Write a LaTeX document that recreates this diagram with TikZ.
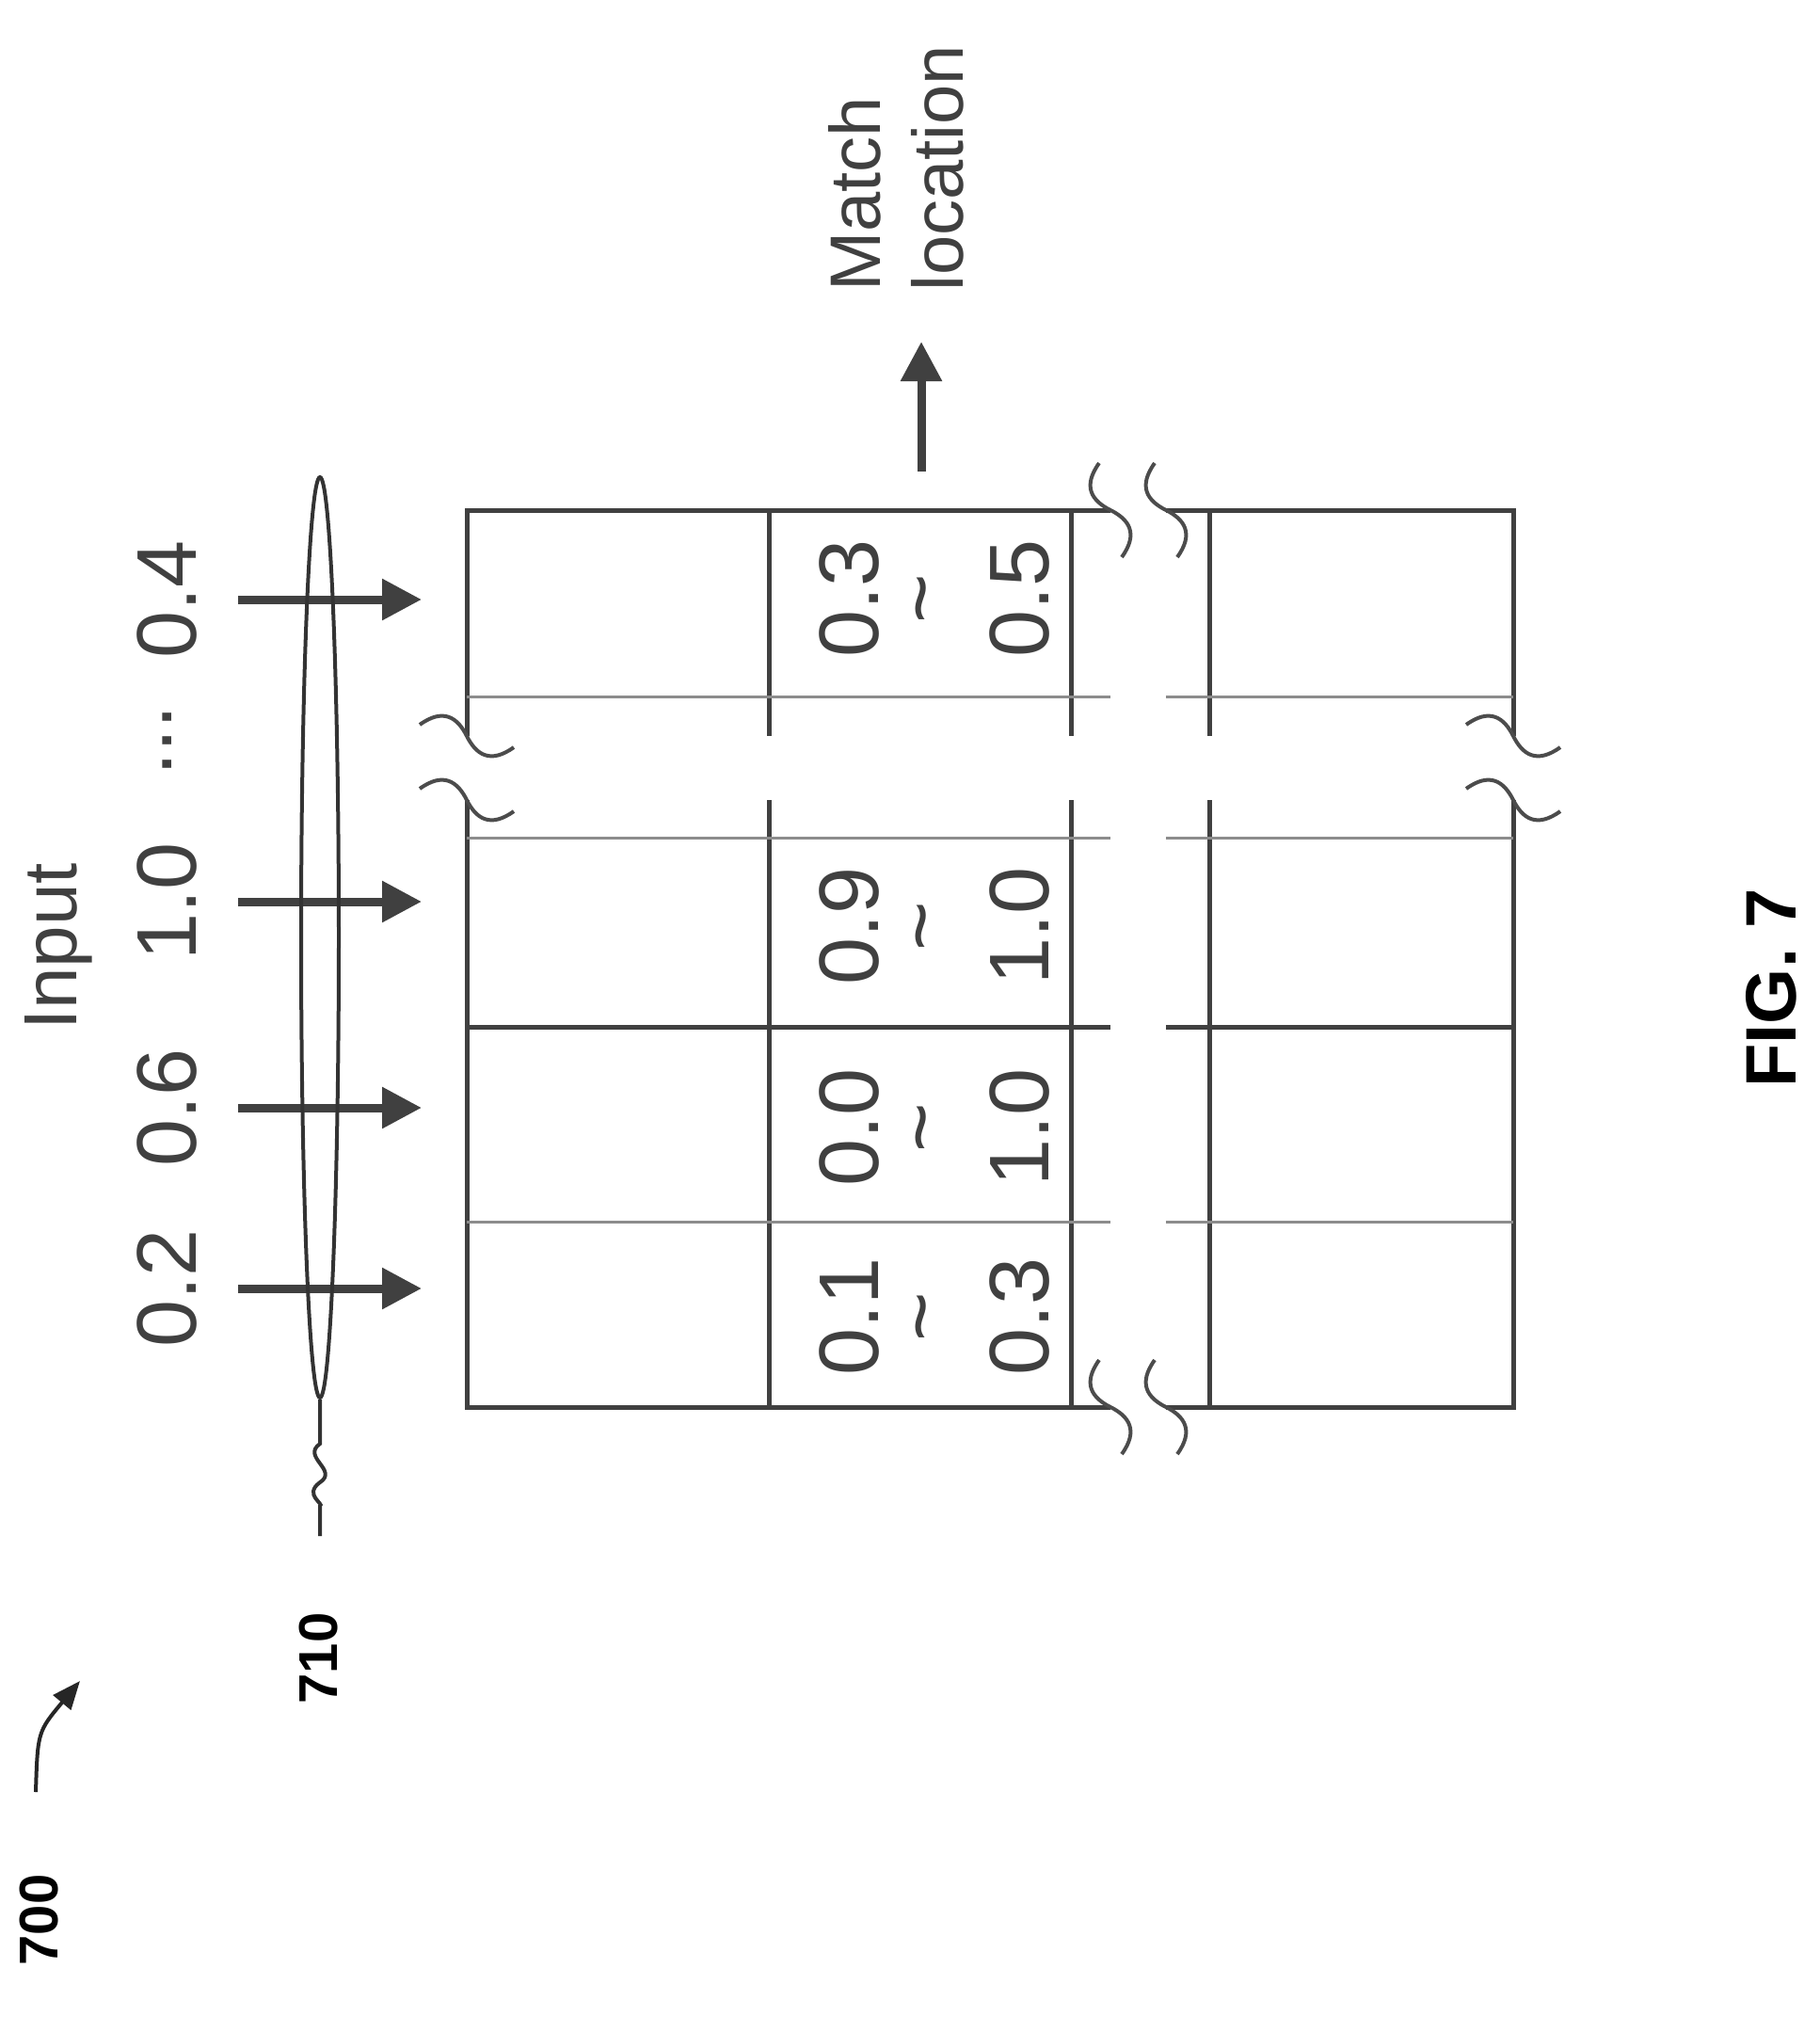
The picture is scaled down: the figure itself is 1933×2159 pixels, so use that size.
\documentclass[tikz,border=0pt]{standalone}
\usepackage{fontspec}
\setmainfont{Liberation Sans}
\usetikzlibrary{arrows.meta,shapes.geometric}
\begin{document}
\begin{tikzpicture}[x=1pt,y=-1pt,
  g/.style={draw=black!75,line width=5pt},
  lg/.style={draw=black!45,line width=3pt},
  txt/.style={text=black!75,rotate=90,font=\fontsize{90}{90}\selectfont,inner sep=0},
  inarr/.style={draw=black!75,line width=9pt,-{Triangle[length=42pt,width=42pt]}},
  brk/.style={draw=black!70,line width=4pt},
  hsq/.pic={\draw[brk] (-50,-12) .. controls (-25,-30) and (-10,-20) .. (0,0) .. controls (10,20) and (25,30) .. (50,12);},
  vsq/.pic={\draw[brk] (-12,-50) .. controls (-30,-25) and (-20,-10) .. (0,0) .. controls (20,10) and (30,25) .. (12,50);}]
\useasboundingbox (0,0) rectangle (1933,2159);
% table borders
\draw[g] (496,782) -- (496,542) -- (1180,542);
\draw[g] (1239,542) -- (1608,542) -- (1608,782);
\draw[g] (496,850) -- (496,1495) -- (1180,1495);
\draw[g] (1239,1495) -- (1608,1495) -- (1608,850);
% column lines
\foreach \x in {817,1138,1285}{
  \draw[g] (\x,542) -- (\x,782);
  \draw[g] (\x,850) -- (\x,1495);}
% row lines
\foreach \y/\s in {740/lg,890/lg,1091/g,1298/lg}{
  \draw[\s] (496,\y) -- (1180,\y);
  \draw[\s] (1239,\y) -- (1608,\y);}
% break marks
\pic at (496,782) {hsq}; \pic at (496,850) {hsq};
\pic at (1608,782) {hsq}; \pic at (1608,850) {hsq};
\pic at (1180,542) {vsq}; \pic at (1239,542) {vsq};
\pic at (1180,1495) {vsq}; \pic at (1239,1495) {vsq};
% cell texts
\foreach \y/\a/\b in {636/0.3/0.5,984/0.9/1.0,1198/0.0/1.0,1399/0.1/0.3}{
  \node[txt] (c\y a) at (903,\y) {\a};
  \node[txt] (c\y t) at (991,\y) {\textasciitilde};
  \node[txt] (c\y b) at (1084,\y) {\b};}
% inputs
\node[txt,font=\fontsize{80}{80}\selectfont] (inp) at (62,1006) {Input};
\foreach \y/\v in {1369/0.2,1177/0.6,958/1.0,637/0.4}{
  \node[txt] (n\y) at (178,\y) {\v};
  \coordinate (s\y) at (253,\y); \coordinate (e\y) at (448,\y);
  \draw[inarr] (s\y) -- (e\y);}
\node[txt] (dots) at (178,787) {...};
% ellipse and leader
\node[draw=black!80,line width=4pt,ellipse,minimum width=40pt,minimum height=978pt,inner sep=0] (ell) at (340,996) {};
\coordinate (l1) at (340,1632);
\draw[draw=black!80,line width=4pt] (ell.south) -- (340,1534) .. controls (320,1548) and (360,1562) .. (340,1575) .. controls (322,1588) and (345,1598) .. (340,1600) -- (l1);
\node[rotate=90,font=\bfseries\fontsize{58}{58}\selectfont] (l710) at (339,1762) {710};
% 700
\node[rotate=90,font=\bfseries\fontsize{58}{58}\selectfont] (l700) at (42,2040) {700};
\coordinate (a0) at (38,1904); \coordinate (a1) at (85,1786);
\draw[black!85,line width=4pt,-{Triangle[length=30pt,width=24pt]}] (a0) .. controls (40,1840) .. (a1);
% match
\coordinate (m0) at (979,501); \coordinate (m1) at (979,363);
\draw[inarr] (m0) -- (m1);
\node[txt,anchor=north west,font=\fontsize{76}{76}\selectfont] (match) at (880,310) {Match};
\node[txt,anchor=north west,font=\fontsize{76}{76}\selectfont] (loc) at (968,310) {location};
% fig
\node[rotate=90,font=\bfseries\fontsize{76}{76}\selectfont] (fig) at (1882,1050) {FIG. 7};
\end{tikzpicture}
\end{document}
